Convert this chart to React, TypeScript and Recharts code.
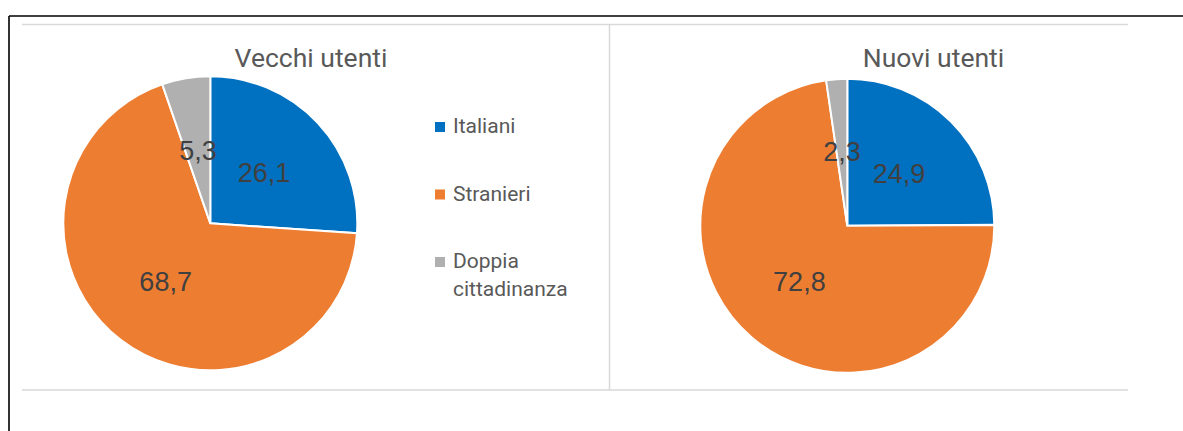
import { PieChart, Pie, Cell, Legend } from 'recharts'

const categories = ['Italiani', 'Stranieri', 'Doppia cittadinanza']
const vecchiUtenti = [26.1, 68.7, 5.3]
const nuoviUtenti = [24.9, 72.8, 2.3]
const titles = ['Vecchi utenti', 'Nuovi utenti']
const colors = ['#0070C0', '#ED7D31', '#B0B0B0']

const vecchiData = categories.map((name, i) => ({ name, value: vecchiUtenti[i] }))
const nuoviData = categories.map((name, i) => ({ name, value: nuoviUtenti[i] }))

const RADIAN = Math.PI / 180
const textColor = '#595959'

const renderLabel = (props: any) => {
    const { cx, cy, midAngle, outerRadius, value } = props
    const r = outerRadius * 0.5
    const x = cx + r * Math.cos(-midAngle * RADIAN)
    const y = cy + r * Math.sin(-midAngle * RADIAN)
    return (
        <text x={x} y={y} fill="#404040" fontSize={27} fontFamily="'Liberation Sans', Arial, sans-serif"
            textAnchor="middle" dominantBaseline="central">
            {String(value).replace('.', ',')}
        </text>
    )
}

// legend: one square + text per category, long names wrap on two lines
const renderLegend = () => (
    <svg width={170} height={200}>
        {categories.map((name, i) => {
            const words = name.split(' ')
            const y = 23 + i * 67.5
            return (
                <g key={name}>
                    <rect x={5} y={y - 11} width={10} height={10} fill={colors[i]} />
                    <text x={23} y={y} fill={textColor} fontSize={21} fontFamily="Roboto, sans-serif">
                        {words.map((w, j) => (
                            <tspan key={w} x={23} dy={j === 0 ? 0 : 28}>{w}</tspan>
                        ))}
                    </text>
                </g>
            )
        })}
    </svg>
)

export default function App() {
    return (
        <div style={{ position: 'absolute', left: 0, top: 0, width: 1183, height: 431, background: '#fff' }}>
            <svg width={1183} height={431} style={{ position: 'absolute', left: 0, top: 0 }}>
                <line x1={9} y1={16} x2={1183} y2={16} stroke="#000" strokeWidth={1.6} />
                <line x1={9} y1={16} x2={9} y2={431} stroke="#000" strokeWidth={1.6} />
                <line x1={22} y1={24.5} x2={1128} y2={24.5} stroke="#d9d9d9" strokeWidth={1.5} />
                <line x1={22} y1={390} x2={1128} y2={390} stroke="#d9d9d9" strokeWidth={1.5} />
                <line x1={609.5} y1={24.5} x2={609.5} y2={390} stroke="#d9d9d9" strokeWidth={1.5} />
                <text x={311} y={67} textAnchor="middle" fill={textColor} fontSize={26.5} fontFamily="Roboto, sans-serif">{titles[0]}</text>
                <text x={933.5} y={67} textAnchor="middle" fill={textColor} fontSize={26.5} fontFamily="Roboto, sans-serif">{titles[1]}</text>
            </svg>
            <div style={{ position: 'absolute', left: 0, top: 0 }}>
                <PieChart width={1183} height={431} margin={{ top: 0, right: 0, bottom: 0, left: 0 }}>
                    <Pie data={vecchiData} dataKey="value" nameKey="name" cx={210.3} cy={223.3} outerRadius={147}
                        startAngle={90} endAngle={-270} stroke="#fff" strokeWidth={2}
                        label={renderLabel} labelLine={false} isAnimationActive={false}>
                        {vecchiData.map((d, i) => <Cell key={d.name} fill={colors[i]} />)}
                    </Pie>
                    <Pie data={nuoviData} dataKey="value" nameKey="name" cx={847.3} cy={225.8} outerRadius={147}
                        startAngle={90} endAngle={-270} stroke="#fff" strokeWidth={2}
                        label={renderLabel} labelLine={false} isAnimationActive={false}>
                        {nuoviData.map((d, i) => <Cell key={d.name} fill={colors[i]} />)}
                    </Pie>
                    <Legend content={renderLegend}
                        wrapperStyle={{ position: 'absolute', left: 430, top: 110, width: 170, height: 200 }} />
                </PieChart>
            </div>
        </div>
    )
}
